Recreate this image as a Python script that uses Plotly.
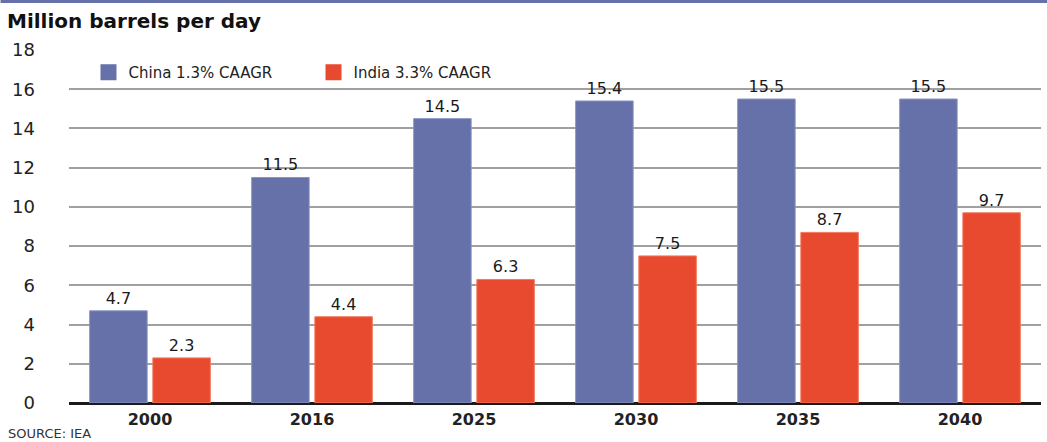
import plotly.graph_objects as go

years = ["2000", "2016", "2025", "2030", "2035", "2040"]
china = [4.7, 11.5, 14.5, 15.4, 15.5, 15.5]
india = [2.3, 4.4, 6.3, 7.5, 8.7, 9.7]
china_name = "China 1.3% CAAGR"
india_name = "India 3.3% CAAGR"
y_ticks = [0, 2, 4, 6, 8, 10, 12, 14, 16, 18]

W, H = 1047, 442
L, R, T, B = 68.5, 6, 50, 39
ph = H - T - B
pw = W - L - R

FONT = "DejaVu Sans"
C_CHINA = "#6571a8"
C_INDIA = "#e84a2f"

fig = go.Figure()
fig.add_trace(go.Bar(
    x=years, y=china, name=china_name, showlegend=False,
    marker=dict(color=C_CHINA, line=dict(color="#8a94c4", width=1)),
    text=[f"{v:.1f}" for v in china], textposition="outside",
    textfont=dict(family=FONT, size=16, color="#1a1a1a"), cliponaxis=False,
))
fig.add_trace(go.Bar(
    x=years, y=india, name=india_name, showlegend=False,
    marker=dict(color=C_INDIA, line=dict(color="#f07a60", width=1)),
    text=[f"{v:.1f}" for v in india], textposition="outside",
    textfont=dict(family=FONT, size=16, color="#1a1a1a"), cliponaxis=False,
))
# legend entries with larger square swatches
for name, col in [(china_name, C_CHINA), (india_name, C_INDIA)]:
    fig.add_trace(go.Scatter(
        x=[None], y=[None], name=name, mode="markers",
        marker=dict(symbol="square", size=16, color=col),
    ))

def px_to_paper_y(py):
    return (H - B - py) / ph

def px_to_paper_x(px):
    return (px - L) / pw

fig.update_layout(
    width=W, height=H,
    margin=dict(l=L, r=R, t=T, b=B, pad=0),
    paper_bgcolor="white", plot_bgcolor="white",
    barmode="group", bargap=0.22, bargroupgap=0.09,
    font=dict(family=FONT, color="#222222"),
    showlegend=True,
    legend=dict(
        orientation="h", x=px_to_paper_x(88), y=px_to_paper_y(56),
        xanchor="left", yanchor="top",
        font=dict(family=FONT, size=15, color="#222222"),
        bgcolor="rgba(255,255,255,0)",
        entrywidth=180, entrywidthmode="pixels",
        traceorder="normal", itemsizing="trace",
    ),
    xaxis=dict(
        type="category", showgrid=False, showline=False, ticks="",
        ticklabelstandoff=5,
        tickfont=dict(family=FONT, size=16, color="#222222", weight="bold"),
        fixedrange=True,
    ),
    yaxis=dict(
        range=[0, 18], tickvals=y_ticks, showgrid=True,
        gridcolor="#a0a0a0", gridwidth=1.5,
        zeroline=True, zerolinecolor="#1a1a1a", zerolinewidth=3,
        showline=False, ticks="", ticklabelstandoff=33,
        tickfont=dict(family=FONT, size=18, color="#222222"),
        fixedrange=True,
    ),
    shapes=[
        dict(type="rect", xref="paper", yref="paper",
             x0=px_to_paper_x(0), x1=px_to_paper_x(W),
             y0=px_to_paper_y(3), y1=px_to_paper_y(0),
             fillcolor=C_CHINA, line=dict(width=0), layer="above"),
    ],
    annotations=[
        dict(text="<b>Million barrels per day</b>", xref="paper", yref="paper",
             x=px_to_paper_x(4), y=px_to_paper_y(21), xanchor="left", yanchor="middle",
             showarrow=False, font=dict(family=FONT, size=20, color="#111111")),
        dict(text="SOURCE: IEA", xref="paper", yref="paper",
             x=px_to_paper_x(5), y=px_to_paper_y(424), xanchor="left", yanchor="top",
             showarrow=False, font=dict(family=FONT, size=13, color="#333333")),
    ],
)

fig.write_html(
    "out.html",
    config={"displayModeBar": False},
    post_script="document.body.style.margin='0';document.body.style.overflow='hidden';",
)
